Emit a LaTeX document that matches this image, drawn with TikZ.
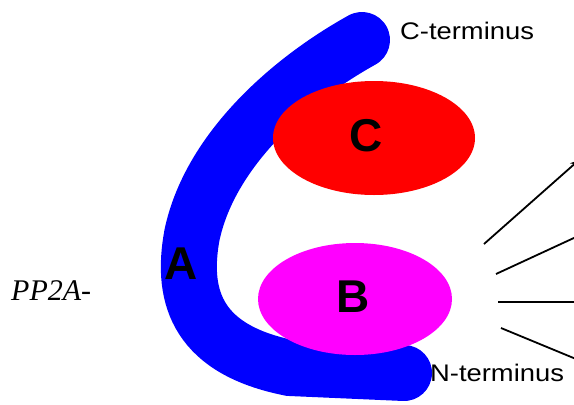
\documentclass[tikz,border=0pt]{standalone}
\usepackage{fontspec}
\setmainfont{Liberation Serif}
\newfontfamily\labelfont[FakeStretch=1.14]{Liberation Sans}
\newfontfamily\boldsans{Liberation Sans}
\usetikzlibrary{shapes.geometric,arrows.meta}
\definecolor{subA}{RGB}{0,0,255}
\definecolor{subC}{RGB}{255,0,0}
\definecolor{subB}{RGB}{255,0,255}
\tikzset{
  subunit/.style={ellipse, inner sep=0pt, draw=none},
  bigletter/.style={font=\boldsans\bfseries\fontsize{46}{46}\selectfont, inner sep=0pt},
  termlabel/.style={font=\labelfont\fontsize{24}{24}\selectfont, anchor=west, inner sep=0pt},
  spoke/.style={line width=1.8pt, black}
}
\begin{document}
\begin{tikzpicture}[x=1pt,y=-1pt]
  \useasboundingbox[fill=white] (0,0) rectangle (574,405);

  % ends of the A subunit band
  \coordinate (cterm) at (362,40);
  \coordinate (nterm) at (404,373);

  % scaffolding A subunit, drawn as a thick rounded stroke
  \draw[subA, line width=56pt, line cap=round]
    (cterm) .. controls (290,80) and (210,150) .. (192,235)
    .. controls (180,300) and (200,350) .. (290,368) -- (nterm);

  % regulatory and catalytic subunits
  \node[subunit, fill=subC, minimum width=202pt, minimum height=114pt] (nodeC) at (374,138) {};
  \node[subunit, fill=subB, minimum width=194pt, minimum height=112pt] (nodeB) at (355,299) {};

  \node[bigletter] (labC) at (366,136) {C};
  \node[bigletter] (labB) at (353,297) {B};
  \node[bigletter] (labA) at (181,264) {A};

  \node[termlabel] (ctext) at (400,31) {C-terminus};
  \node[termlabel] (ntext) at (430,373) {N-terminus};

  \node[font=\itshape\fontsize{30}{30}\selectfont, anchor=west, inner sep=0pt] (pp2a) at (11,291) {PP2A-};

  % lines leading off to the right
  \coordinate (s1a) at (484,244); \coordinate (s1b) at (579,160);
  \coordinate (s2a) at (496,274); \coordinate (s2b) at (576,237);
  \coordinate (s3a) at (498,302); \coordinate (s3b) at (576,302);
  \coordinate (s4a) at (501,328); \coordinate (s4b) at (576,359);
  \draw[spoke, -{Stealth[length=9pt,width=7pt]}] (s1a) -- (s1b);
  \draw[spoke] (s2a) -- (s2b);
  \draw[spoke] (s3a) -- (s3b);
  \draw[spoke] (s4a) -- (s4b);
\end{tikzpicture}
\end{document}
